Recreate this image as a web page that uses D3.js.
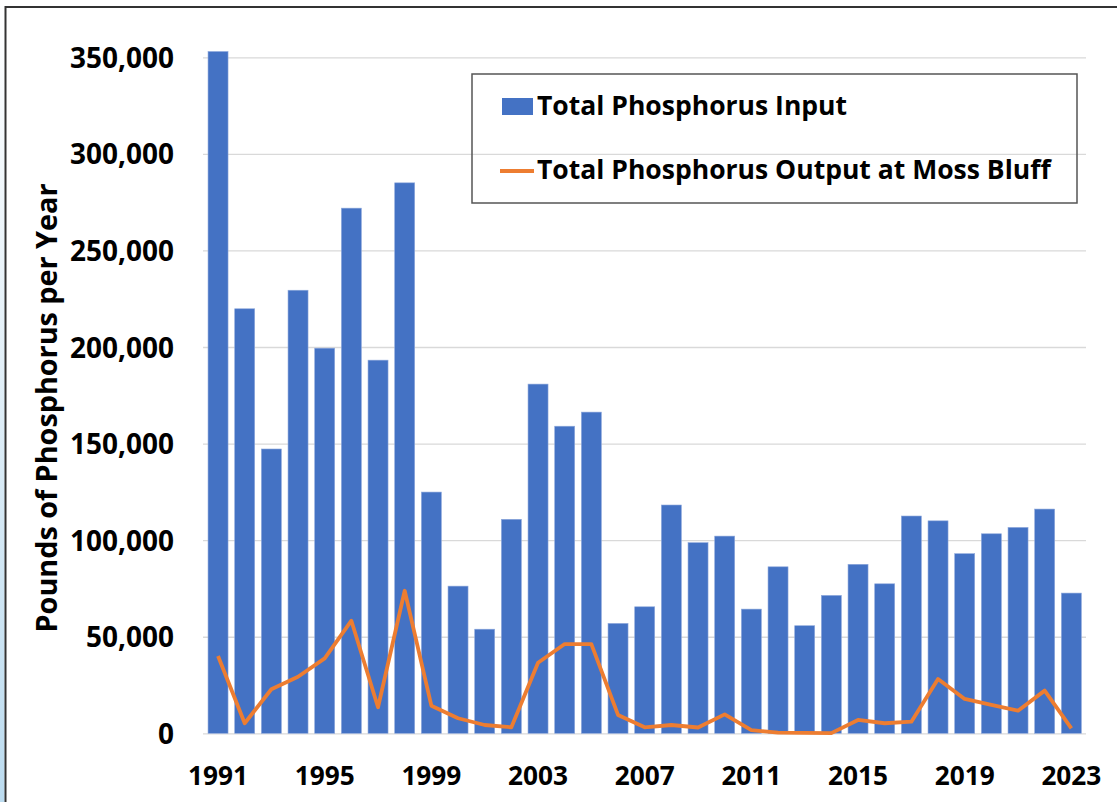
<!DOCTYPE html>
<html>
<head>
<meta charset="utf-8">
<script src="https://cdn.jsdelivr.net/npm/d3@7"></script>
<style>
  body { margin: 0; background: #fff; }
  text { font-family: "Open Sans", Lato, sans-serif; font-weight: bold; fill: #000; }
</style>
</head>
<body>
<div id="chart-area"></div>
<script>
// data
const years = d3.range(1991, 2024);
const inputLbs = [353000, 219800, 147200, 229400, 199400, 271900, 193200, 285000,
  124900, 76200, 53900, 110800, 180800, 159000, 166300, 56900, 65500, 118200,
  98700, 102100, 64300, 86200, 55700, 71400, 87500, 77400, 112500, 110000,
  93000, 103300, 106600, 116100, 72600];
const outputLbs = [40000, 5200, 22800, 29300, 38800, 58300, 13500, 73800,
  14300, 7800, 4300, 3100, 36500, 46200, 46200, 9500, 3100, 4300,
  3000, 9800, 1700, 300, 200, 100, 6900, 5200, 6000, 28100,
  17800, 14700, 11700, 22100, 2600];
const yTicks = [0, 50000, 100000, 150000, 200000, 250000, 300000, 350000];
const xTickYears = [1991, 1995, 1999, 2003, 2007, 2011, 2015, 2019, 2023];
const seriesNames = ["Total Phosphorus Input", "Total Phosphorus Output at Moss Bluff"];

const data = years.map((yr, i) => ({ year: yr, input: inputLbs[i], output: outputLbs[i] }));

// sizes
const W = 1117, H = 802;
let plot = { lft: 204.7, rht: 1084.7, top: 57.3, bot: 733.3 };

// scale font so that the first text of the selection is `target` px wide
function fitWidth(sel, target) {
  let node = sel.node();
  let fs = parseFloat(sel.attr("font-size"));
  let w = node.getComputedTextLength();
  sel.attr("font-size", (fs * target / w).toFixed(2) + "px");
}

let svg = d3.select("#chart-area")
  .append("svg")
    .attr("width", W)
    .attr("height", H);

// light blue strip at left edge (background of original screenshot)
let grad = svg.append("defs").append("linearGradient")
  .attr("id", "edge").attr("x1", 0).attr("x2", 0).attr("y1", 0).attr("y2", 1);
grad.append("stop").attr("offset", "0%").attr("stop-color", "#ffffff");
grad.append("stop").attr("offset", "45%").attr("stop-color", "#e3f0f8");
grad.append("stop").attr("offset", "100%").attr("stop-color", "#bcdcf0");
svg.append("rect")
  .attr("x", 0).attr("y", 0).attr("width", 4.5).attr("height", H)
  .attr("fill", "url(#edge)");

// frame (only top and left visible)
svg.append("path")
  .attr("d", `M5.5,${H} V7 H${W}`)
  .attr("fill", "none")
  .attr("stroke", "#333")
  .attr("stroke-width", 2);

// scales
let x = d3.scaleBand()
  .domain(years)
  .range([plot.lft, plot.rht])
  .paddingInner(0.25)
  .paddingOuter(0.125);

let y = d3.scaleLinear()
  .domain([0, 350000])
  .range([plot.bot, plot.top]);

// gridlines + y ticks
let yAxisCall = d3.axisLeft(y)
  .tickValues(yTicks)
  .tickSize(-(1086 - 203))
  .tickFormat(d3.format(","));
let yAxis = svg.append("g")
  .attr("class", "y-axis")
  .attr("transform", "translate(203, 0)")
  .call(yAxisCall);
yAxis.select(".domain").remove();
yAxis.selectAll("line").attr("stroke", "#d9d9d9").attr("stroke-width", 1.3);
let yLabels = yAxis.selectAll("text")
  .attr("font-size", "26px")
  .attr("dy", "0.36em")
  .attr("x", -29);
// "350,000" is about 104px wide in the original
let fsY = 26 * 104 / yLabels.filter((d) => d === 350000).node().getComputedTextLength();
yLabels.attr("font-size", fsY.toFixed(2) + "px");

// y label
let yTitle = svg.append("text")
  .attr("class", "y-axis label")
  .attr("transform", "translate(57, 408) rotate(-90)")
  .attr("text-anchor", "middle")
  .attr("font-size", "22px")
  .text("Pounds of Phosphorus per Year");
fitWidth(yTitle, 449);

// bars
svg.append("g").selectAll("rect")
  .data(data)
  .enter()
  .append("rect")
    .attr("x", (d) => x(d.year))
    .attr("y", (d) => y(d.input))
    .attr("width", x.bandwidth())
    .attr("height", (d) => y(0) - y(d.input))
    .attr("fill", "#4472c4")
    .attr("stroke", "#8fa9dc")
    .attr("stroke-width", 0.6);

// line
let line = d3.line()
  .x((d) => x(d.year) + x.bandwidth() / 2)
  .y((d) => y(d.output));
svg.append("path")
  .datum(data)
  .attr("d", line)
  .attr("fill", "none")
  .attr("stroke", "#ed7d31")
  .attr("stroke-width", 3.8)
  .attr("stroke-linejoin", "round");

// x axis
let xAxisCall = d3.axisBottom(x)
  .tickValues(xTickYears)
  .tickSize(0)
  .tickPadding(0);
let xAxis = svg.append("g")
  .attr("class", "x-axis")
  .attr("transform", `translate(0, ${plot.bot})`)
  .call(xAxisCall);
xAxis.select(".domain").remove();
let xLabels = xAxis.selectAll("text")
  .attr("font-size", "26px")
  .attr("dy", 0)
  .attr("y", 52);
fitWidth(xLabels, 60);

// legend
let legend = svg.append("g").attr("class", "legend");
legend.append("rect")
  .attr("x", 472).attr("y", 74)
  .attr("width", 605).attr("height", 129)
  .attr("fill", "none")
  .attr("stroke", "#555")
  .attr("stroke-width", 1.5);
legend.append("rect")
  .attr("x", 502).attr("y", 98)
  .attr("width", 31).attr("height", 17)
  .attr("fill", "#4472c4");
legend.append("line")
  .attr("x1", 500).attr("x2", 534)
  .attr("y1", 171).attr("y2", 171)
  .attr("stroke", "#ed7d31")
  .attr("stroke-width", 3.8);
let legTexts = legend.selectAll("text.leg")
  .data(seriesNames)
  .enter()
  .append("text")
    .attr("class", "leg")
    .attr("x", 537)
    .attr("y", (d, i) => i === 0 ? 115 : 179)
    .attr("font-size", "25px")
    .text((d) => d);
fitWidth(legTexts.filter((d, i) => i === 1), 514);
legTexts.filter((d, i) => i === 0)
  .attr("font-size", legTexts.filter((d, i) => i === 1).attr("font-size"));
</script>
</body>
</html>
